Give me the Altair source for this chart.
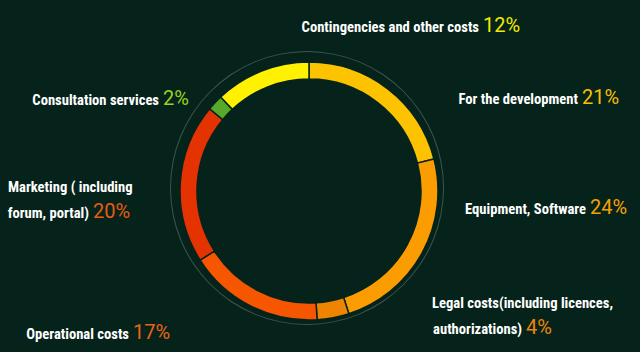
import altair as alt
import pandas as pd

# ---- data ----
categories = [
    "For the development",
    "Equipment, Software",
    "Legal costs(including licences, authorizations)",
    "Operational costs",
    "Marketing ( including forum, portal)",
    "Consultation services",
    "Contingencies and other costs",
]
values = [21, 24, 4, 17, 20, 2, 12]
label_lines = [
    ["For the development"],
    ["Equipment, Software"],
    ["Legal costs(including licences,", "authorizations)"],
    ["Operational costs"],
    ["Marketing ( including", "forum, portal)"],
    ["Consultation services"],
    ["Contingencies and other costs"],
]

# ---- styles / layout ----
BG = "#05231a"
seg_colors = ["#fdc300", "#fb9d00", "#ee8400", "#f65600", "#e43300", "#58a92a", "#fff100"]
pct_colors = ["#f9bd00", "#f5a000", "#ea860c", "#ec6216", "#e85a14", "#9ad21e", "#f4ea00"]
# (x where last label line ends, baseline of last line, left x of a multi-line block)
anchors = [(578, 104, 0), (586, 214, 0), (522, 334, 432), (129, 339, 0),
           (89, 218, 8), (159, 105, 0), (479, 32, 0)]
LABEL_SIZE = 14.6
PCT_SIZE = 20
LINE_GAP = 26
FONT = "Roboto Condensed, Roboto"
PCT_FONT = "Roboto"

W, H = 640, 352
CX, CY, R_OUT, R_IN = 309, 191, 129, 112

df = pd.DataFrame({"category": categories, "value": values, "order": list(range(len(values)))})

ring = alt.Chart(df).mark_arc(
    radius=R_OUT, radius2=R_IN, stroke=BG, strokeWidth=1.5
).encode(
    theta=alt.Theta("value:Q", stack=True),
    order=alt.Order("order:Q"),
    color=alt.Color("category:N", scale=alt.Scale(domain=categories, range=seg_colors), legend=None),
    x=alt.value(CX),
    y=alt.value(CY),
)

outer = alt.Chart(pd.DataFrame({"v": [1]})).mark_arc(
    radius=137, radius2=136, color="#3d554e"
).encode(
    theta=alt.Theta("v:Q"),
    x=alt.value(307),
    y=alt.value(188),
)

rows_right, rows_left, rows_pct = [], [], []
for lines, (xr, yb, xl), v, pc in zip(label_lines, anchors, values, pct_colors):
    n = len(lines)
    for i, line in enumerate(lines[:-1]):
        rows_left.append({"x": xl, "y": yb - LINE_GAP * (n - 1 - i), "text": line})
    rows_right.append({"x": xr, "y": yb, "text": lines[-1]})
    rows_pct.append({"x": xr + 4, "y": yb, "text": f"{v}%", "color": pc})

def text_layer(rows, align, weight, font, size, colored=False):
    enc = dict(
        x=alt.X("x:Q", scale=None, axis=None),
        y=alt.Y("y:Q", scale=None, axis=None),
        text="text:N",
    )
    if colored:
        enc["color"] = alt.Color("color:N", scale=None)
    return alt.Chart(pd.DataFrame(rows)).mark_text(
        align=align, baseline="alphabetic", font=font, fontSize=size,
        fontWeight=weight, color="#ffffff"
    ).encode(**enc)

chart = alt.layer(
    outer,
    ring,
    text_layer(rows_right, "right", "bold", FONT, LABEL_SIZE),
    text_layer(rows_left, "left", "bold", FONT, LABEL_SIZE),
    text_layer(rows_pct, "left", "normal", PCT_FONT, PCT_SIZE, colored=True),
).resolve_scale(theta="independent").properties(
    width=W, height=H, autosize=alt.AutoSizeParams(type="none"), padding=0,
    background=BG,
).configure_view(stroke=None)

chart.save("out.html", embed_options={"renderer": "svg", "actions": False})
